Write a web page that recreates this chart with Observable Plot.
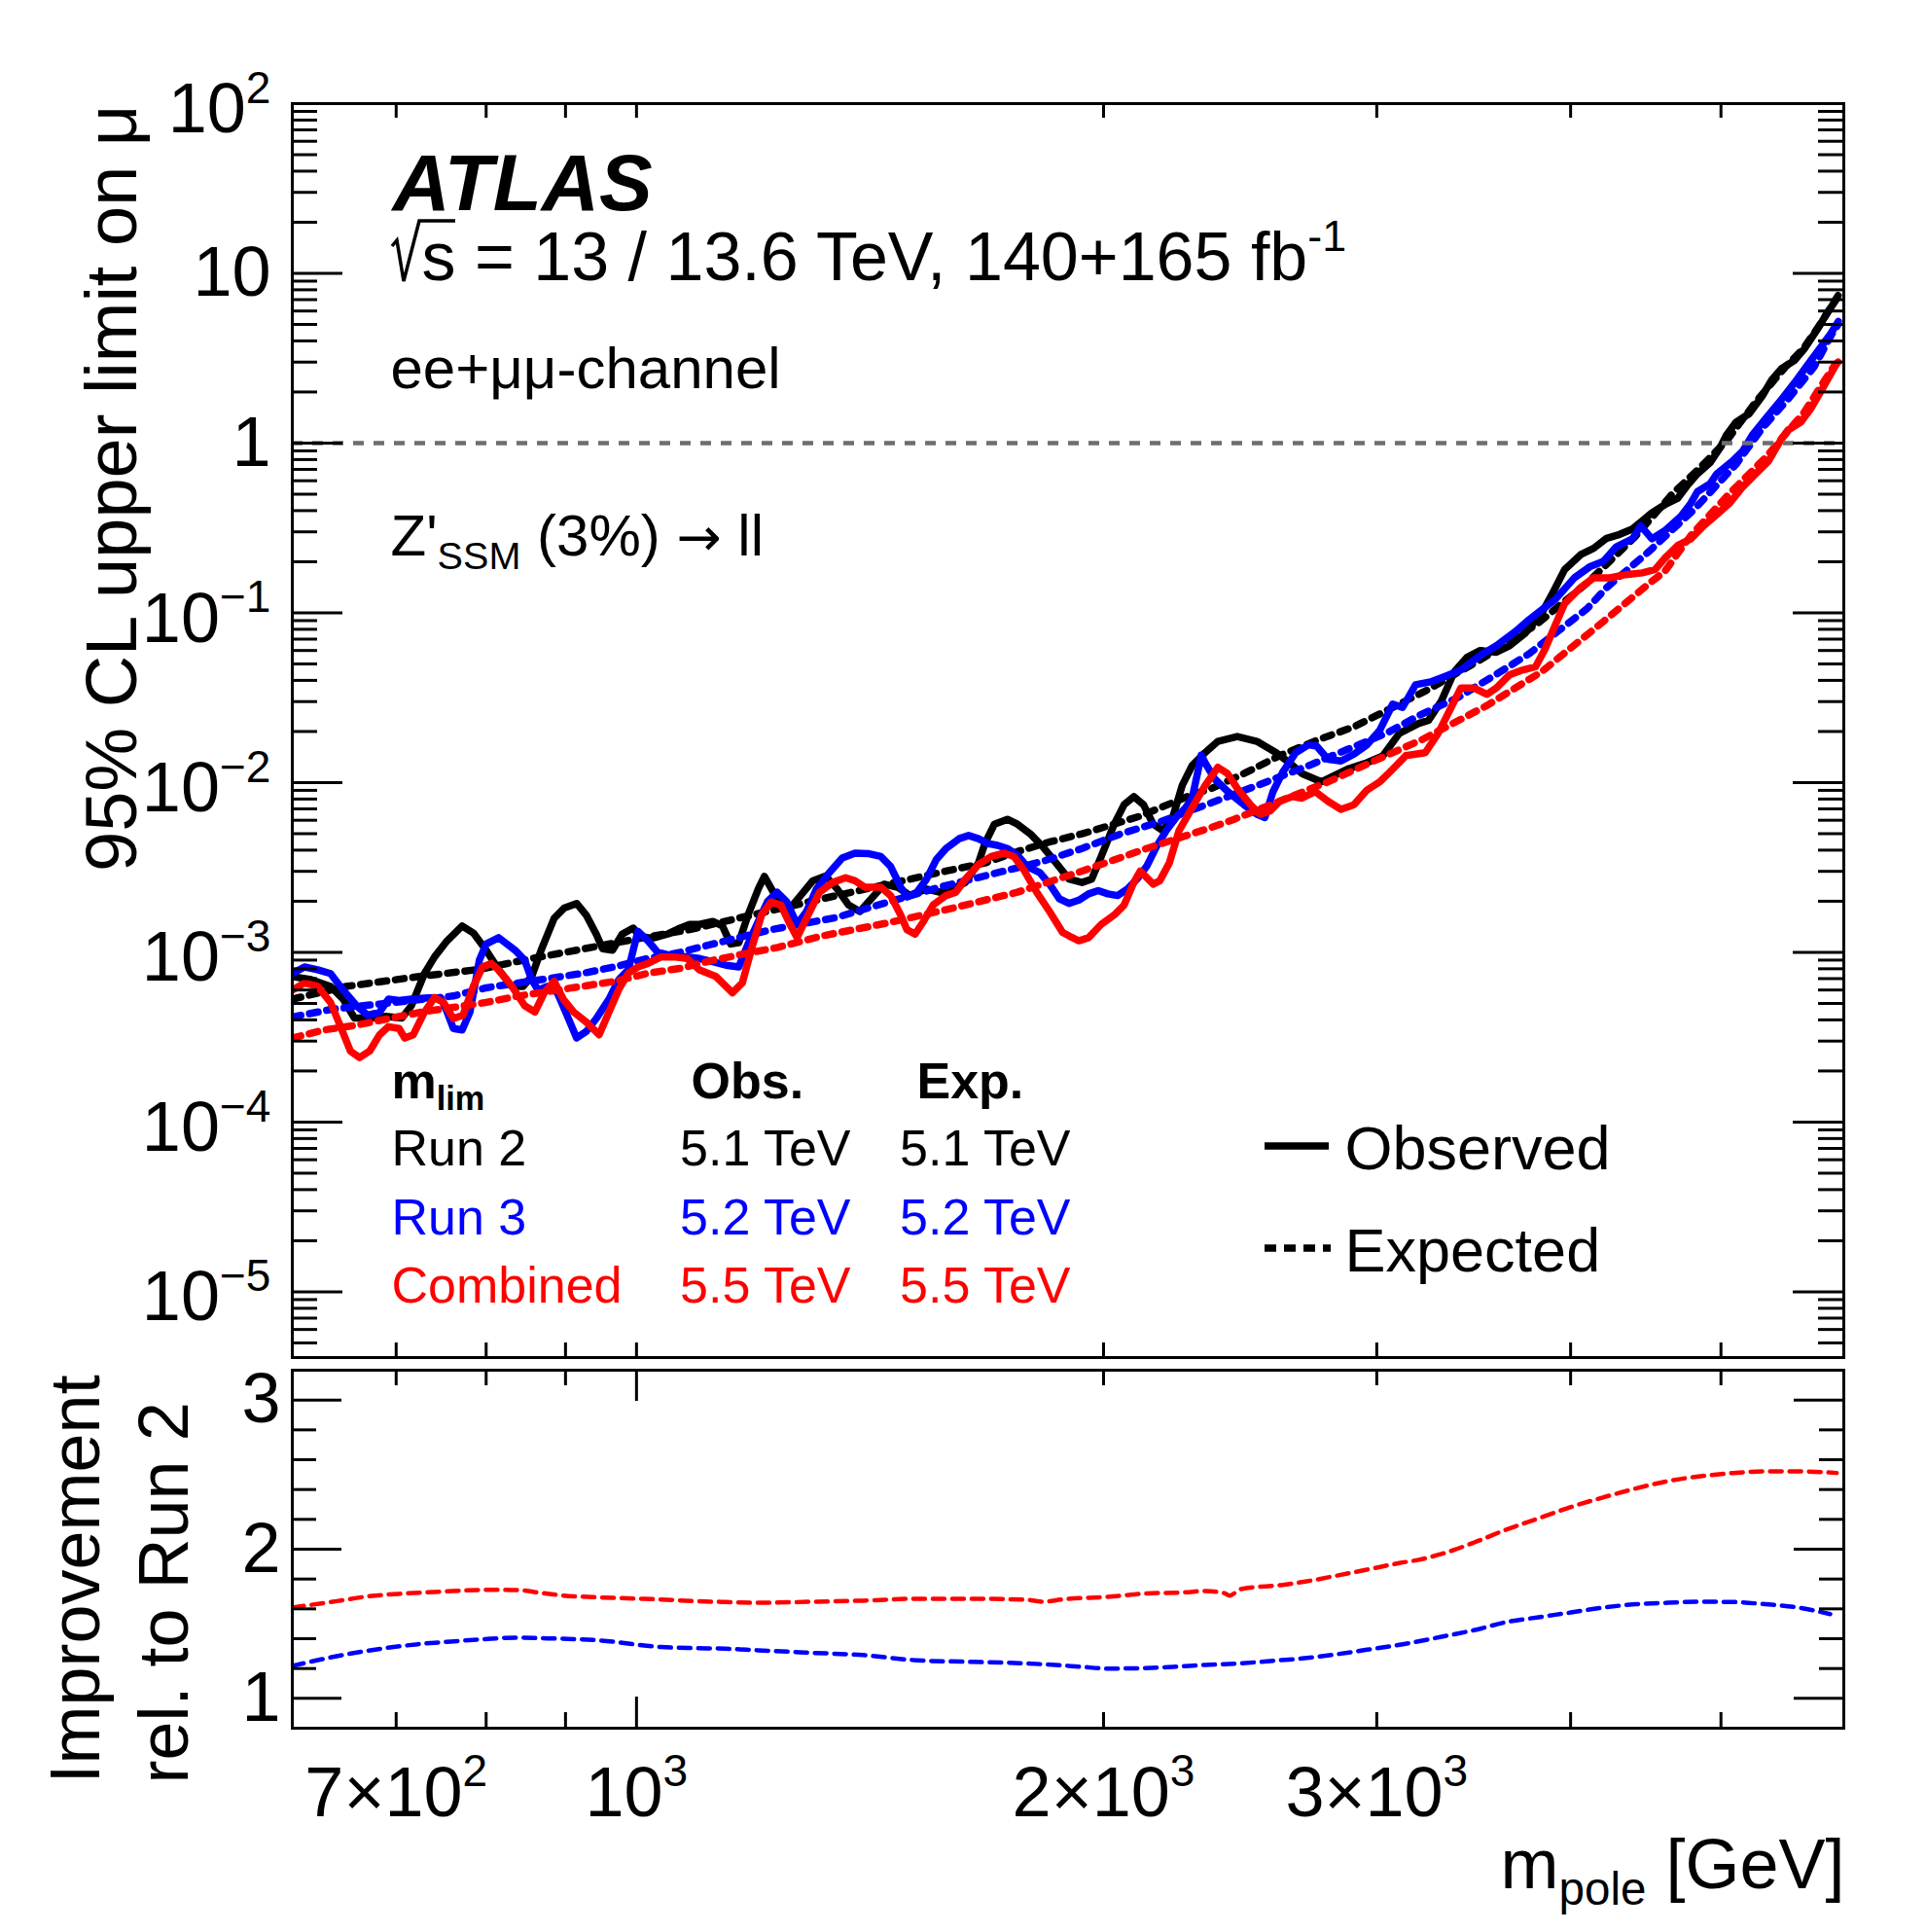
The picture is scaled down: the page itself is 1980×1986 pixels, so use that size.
<!DOCTYPE html>
<html><head><meta charset="utf-8">
<script src="https://cdn.jsdelivr.net/npm/d3@7"></script>
<script src="https://cdn.jsdelivr.net/npm/@observablehq/plot@0.6"></script>
<style>
html,body{margin:0;padding:0;background:#fff;}
#wrap{position:relative;width:1980px;height:1986px;background:#fff;overflow:hidden;}
#upper,#lower{position:absolute;left:0;width:1980px;}
#upper{top:0;height:1400px;}
#lower{top:1400px;height:586px;}
</style></head>
<body><div id="wrap"><div id="upper"></div><div id="lower"></div></div>
<script>
// ---------------- data ----------------
const run2ObsMass = [600,617,635,647,658,673,689,706,716,730,741,755,772,785,800,815,831,845,856,868,885,898,915,928,942,951,965,979,995,1007,1027,1047,1067,1082,1098,1120,1136,1150,1164,1180,1198,1209,1232,1256,1281,1299,1324,1347,1370,1393,1417,1444,1473,1501,1538,1568,1598,1629,1661,1677,1701,1734,1760,1794,1828,1864,1900,1937,1965,1993,2032,2062,2092,2122,2153,2184,2216,2248,2281,2325,2370,2439,2511,2584,2635,2685,2764,2818,2873,2957,3028,3102,3193,3240,3302,3366,3431,3498,3583,3653,3742,3832,3907,3965,4060,4139,4220,4302,4385,4449,4513,4601,4690,4758,4828,4921,4993,5041,5114,5214,5315,5392,5470,5576,5657,5768,5852,5937];
const run2ObsLimit = [7.2e-4,6.9e-4,6.3e-4,5.3e-4,4.1e-4,4.1e-4,4.2e-4,4.1e-4,4.85e-4,7.5e-4,9.4e-4,1.17e-3,1.43e-3,1.30e-3,1.03e-3,7.9e-4,6.3e-4,6.3e-4,7.2e-4,1.03e-3,1.59e-3,1.82e-3,1.94e-3,1.66e-3,1.28e-3,1.05e-3,1.03e-3,1.28e-3,1.39e-3,1.22e-3,1.22e-3,1.28e-3,1.39e-3,1.46e-3,1.46e-3,1.52e-3,1.43e-3,1.12e-3,1.14e-3,1.66e-3,2.36e-3,2.8e-3,2.07e-3,1.82e-3,2.26e-3,2.64e-3,2.82e-3,2.36e-3,1.90e-3,1.74e-3,2.07e-3,2.52e-3,2.42e-3,2.16e-3,2.36e-3,2.26e-3,2.36e-3,2.58e-3,3.36e-3,4.37e-3,5.69e-3,6.08e-3,5.69e-3,4.99e-3,4.18e-3,3.36e-3,2.70e-3,2.58e-3,2.70e-3,3.67e-3,5.69e-3,7.41e-3,8.27e-3,7.41e-3,5.69e-3,5.21e-3,6.22e-3,9.66e-3,1.26e-2,1.50e-2,1.75e-2,1.87e-2,1.75e-2,1.50e-2,1.31e-2,1.13e-2,1.01e-2,1.10e-2,1.20e-2,1.31e-2,1.44e-2,1.95e-2,2.23e-2,2.33e-2,3.03e-2,4.50e-2,5.48e-2,6.0e-2,5.86e-2,6.4e-2,7.63e-2,9.94e-2,0.138,0.18,0.22,0.24,0.275,0.29,0.312,0.348,0.388,0.434,0.474,0.565,0.659,0.768,0.936,1.116,1.33,1.49,1.89,2.36,2.75,3.07,3.58,4.67,5.81,7.08];

const run3ObsMass = [600,611,623,635,647,660,671,683,692,703,716,734,748,755,762,772,781,792,800,815,835,847,856,864,876,889,902,915,928,942,960,974,988,1002,1017,1032,1052,1078,1098,1120,1142,1164,1180,1198,1215,1232,1250,1269,1287,1306,1331,1357,1383,1410,1437,1458,1480,1494,1516,1538,1560,1583,1614,1637,1661,1685,1709,1734,1760,1785,1820,1846,1873,1900,1928,1956,1984,2013,2042,2072,2102,2132,2163,2195,2227,2259,2281,2300,2312,2325,2359,2405,2463,2511,2541,2572,2609,2660,2711,2744,2791,2845,2900,2957,3014,3072,3117,3178,3255,3318,3399,3498,3583,3688,3760,3851,3907,4023,4120,4200,4281,4385,4438,4513,4601,4713,4782,4828,4921,4969,5089,5164,5239,5341,5470,5576,5684,5796,5880,5951];
const run3ObsLimit = [7.5e-4,8.2e-4,7.9e-4,7.5e-4,6.0e-4,4.85e-4,4.26e-4,4.45e-4,5.3e-4,5.2e-4,5.3e-4,5.4e-4,5.4e-4,4.45e-4,3.56e-4,3.49e-4,4.45e-4,9.0e-4,1.12e-3,1.22e-3,1.03e-3,9.0e-4,6.9e-4,6.0e-4,6.3e-4,5.8e-4,4.26e-4,3.13e-4,3.41e-4,4.07e-4,5.3e-4,6.9e-4,7.9e-4,1.33e-3,1.17e-3,1.0e-3,9.6e-4,9.4e-4,9.2e-4,8.8e-4,8.4e-4,8.2e-4,1.12e-3,1.52e-3,2.0e-3,2.26e-3,1.98e-3,1.46e-3,1.74e-3,2.36e-3,2.94e-3,3.59e-3,3.84e-3,3.82e-3,3.67e-3,3.21e-3,2.42e-3,2.12e-3,2.26e-3,2.70e-3,3.51e-3,4.09e-3,4.67e-3,4.88e-3,4.67e-3,4.37e-3,4.27e-3,4.09e-3,3.75e-3,3.21e-3,2.94e-3,2.52e-3,2.07e-3,1.94e-3,2.03e-3,2.21e-3,2.31e-3,2.21e-3,2.16e-3,2.36e-3,2.70e-3,3.21e-3,4.18e-3,5.21e-3,6.22e-3,7.1e-3,8.1e-3,1.15e-2,1.45e-2,1.31e-2,1.05e-2,8.85e-3,7.41e-3,6.50e-3,6.22e-3,8.85e-3,1.15e-2,1.50e-2,1.67e-2,1.64e-2,1.37e-2,1.34e-2,1.47e-2,1.67e-2,2.04e-2,2.90e-2,2.77e-2,3.77e-2,3.94e-2,4.21e-2,4.60e-2,5.61e-2,6.4e-2,7.80e-2,9.10e-2,0.108,0.119,0.161,0.188,0.201,0.245,0.273,0.326,0.273,0.305,0.372,0.443,0.517,0.577,0.659,0.786,0.897,1.116,1.39,1.81,2.26,2.87,3.66,4.37,5.2];

const combObsMass = [600,611,623,635,644,654,663,673,683,692,703,709,718,730,741,751,762,773,785,796,806,815,831,847,860,872,885,897,911,928,946,960,974,988,1003,1017,1037,1057,1078,1098,1125,1153,1170,1187,1204,1221,1239,1256,1269,1287,1312,1338,1364,1383,1403,1437,1458,1480,1494,1512,1531,1553,1583,1606,1629,1661,1693,1726,1751,1776,1811,1846,1882,1900,1928,1956,1993,2032,2062,2092,2112,2153,2174,2205,2237,2281,2325,2370,2404,2439,2487,2523,2560,2597,2647,2685,2738,2791,2845,2900,2957,3014,3072,3132,3224,3286,3350,3399,3465,3532,3583,3653,3724,3797,3851,3907,3965,4060,4140,4240,4343,4449,4535,4601,4690,4782,4874,4969,5065,5164,5264,5367,5470,5522,5630,5712,5824,5937];
const combObsLimit = [6.0e-4,6.6e-4,6.3e-4,5.07e-4,3.72e-4,2.62e-4,2.40e-4,2.62e-4,3.27e-4,3.65e-4,3.56e-4,3.13e-4,3.27e-4,4.45e-4,5.42e-4,5.07e-4,4.07e-4,4.26e-4,6.32e-4,8.23e-4,8.6e-4,7.87e-4,6.32e-4,4.85e-4,4.45e-4,5.78e-4,6.75e-4,5.3e-4,4.45e-4,3.89e-4,3.27e-4,4.45e-4,6.04e-4,7.53e-4,8.23e-4,8.6e-4,9.4e-4,9.4e-4,9.2e-4,7.87e-4,7.21e-4,5.78e-4,6.6e-4,1.07e-3,1.66e-3,1.98e-3,1.90e-3,1.46e-3,1.22e-3,1.59e-3,2.26e-3,2.58e-3,2.75e-3,2.64e-3,2.42e-3,2.42e-3,2.16e-3,1.66e-3,1.36e-3,1.28e-3,1.52e-3,1.90e-3,2.16e-3,2.26e-3,2.70e-3,3.29e-3,3.67e-3,3.84e-3,3.67e-3,3.08e-3,2.26e-3,1.74e-3,1.31e-3,1.25e-3,1.17e-3,1.22e-3,1.46e-3,1.66e-3,1.90e-3,2.58e-3,3.01e-3,2.52e-3,2.64e-3,3.36e-3,5.21e-3,7.1e-3,9.6e-3,1.23e-2,1.13e-2,9.25e-3,7.41e-3,6.50e-3,6.79e-3,7.75e-3,8.28e-3,8.1e-3,8.85e-3,7.75e-3,6.95e-3,7.41e-3,9.04e-3,1.01e-2,1.20e-2,1.44e-2,1.50e-2,1.95e-2,2.77e-2,3.61e-2,3.61e-2,3.31e-2,3.61e-2,4.31e-2,4.60e-2,4.81e-2,6.12e-2,8.33e-2,0.1135,0.141,0.161,0.161,0.168,0.172,0.180,0.210,0.250,0.273,0.326,0.380,0.443,0.552,0.659,0.786,1.06,1.19,1.33,1.59,2.16,2.94];

const run2ExpMass = [600,650,719,792,856,915,1000,1082,1160,1318,1451,1583,1677,1760,1846,1937,2112,2281,2348,2463,2597,2751,2900,3224,3500,3800,4100,4400,4650,4850,5050,5265,5500,5650,5800,5950];
const run2ExpLimit = [5.3e-4,6.3e-4,7.14e-4,7.94e-4,9.2e-4,1.03e-3,1.2e-3,1.36e-3,1.58e-3,2.07e-3,2.52e-3,3.01e-3,3.36e-3,3.92e-3,4.47e-3,4.99e-3,6.35e-3,8.5e-3,9.25e-3,1.13e-2,1.44e-2,1.79e-2,2.13e-2,3.46e-2,5.3e-2,8.5e-2,0.15,0.28,0.50,0.72,1.05,1.75,2.8,3.6,5.1,7.4];

const run3ExpMass = [600,638,762,800,839,881,924,969,1017,1067,1120,1221,1344,1417,1568,1677,1828,1937,2052,2184,2347,2499,2724,2873,3043,3193,3382,3549,3760,3926,4100,4220,4491,4805,5114,5315,5522,5741,5893,5950];
const run3ExpLimit = [4.16e-4,4.64e-4,5.53e-4,6.18e-4,6.6e-4,7.05e-4,7.53e-4,8.23e-4,9.2e-4,1.0e-3,1.12e-3,1.36e-3,1.6e-3,1.85e-3,2.42e-3,2.82e-3,3.44e-3,4.09e-3,4.99e-3,5.95e-3,7.6e-3,9.44e-3,1.28e-2,1.57e-2,1.95e-2,2.48e-2,3.16e-2,4.12e-2,5.73e-2,7.8e-2,0.106,0.141,0.229,0.406,0.751,1.22,1.81,2.81,4.37,5.0];

const combExpMass = [600,629,660,692,727,762,800,839,881,924,969,1017,1067,1120,1174,1233,1318,1451,1598,1760,1937,2132,2347,2428,2791,2971,3208,3532,3832,4200,4491,4601,4782,5065,5341,5657,5908,5950];
const combExpLimit = [3.13e-4,3.49e-4,3.72e-4,4.07e-4,4.45e-4,4.74e-4,5.07e-4,5.53e-4,5.91e-4,6.32e-4,6.75e-4,7.53e-4,8.05e-4,8.98e-4,9.8e-4,1.07e-3,1.25e-3,1.49e-3,1.82e-3,2.26e-3,3.01e-3,4.09e-3,5.44e-3,6.08e-3,1.01e-2,1.31e-2,1.79e-2,2.84e-2,4.50e-2,8.9e-2,0.148,0.176,0.286,0.506,0.82,1.52,2.81,3.0];

const ratioCombMass = [600,641,673,706,741,777,815,843,868,897,942,988,1037,1088,1141,1198,1300,1400,1516,1621,1776,1828,1881,2012,2132,2259,2325,2393,2411,2452,2609,2698,2818,2957,3102,3193,3302,3465,3635,3814,4002,4200,4406,4623,4851,5089,5341,5604,5937];
const ratioComb = [1.609,1.652,1.685,1.702,1.713,1.724,1.728,1.724,1.707,1.689,1.678,1.670,1.663,1.652,1.646,1.641,1.648,1.655,1.668,1.668,1.663,1.648,1.663,1.681,1.703,1.711,1.720,1.705,1.689,1.733,1.761,1.783,1.820,1.863,1.907,1.929,1.968,2.044,2.131,2.207,2.283,2.348,2.407,2.457,2.489,2.511,2.522,2.522,2.511];

const ratioRun3Mass = [600,626,657,689,723,759,796,835,876,919,965,1002,1037,1088,1141,1198,1300,1400,1516,1621,1776,1873,1937,2012,2112,2216,2325,2439,2560,2685,2818,2957,3147,3302,3465,3635,3814,4002,4200,4406,4623,4851,5089,5341,5604,5880];
const ratioRun3 = [1.217,1.261,1.304,1.337,1.363,1.381,1.396,1.407,1.402,1.396,1.381,1.359,1.344,1.337,1.333,1.322,1.305,1.29,1.255,1.246,1.235,1.222,1.211,1.200,1.202,1.211,1.224,1.233,1.250,1.268,1.294,1.326,1.370,1.413,1.457,1.511,1.544,1.576,1.609,1.631,1.641,1.648,1.646,1.631,1.609,1.565];

// axis ticks / labels
const massDomain = [600, 6000];
const limitDomain = [4.1e-6, 100];
const ratioDomain = [0.8, 3.2];
const yLabelTicks = [1e-5, 1e-4, 1e-3, 1e-2, 1e-1, 1, 10, 100];
const xTickValues = [700, 800, 900, 1000, 2000, 3000, 4000, 5000];
const xLabelTicks = [700, 1000, 2000, 3000];
const xLabelText = ["7×10^{2}", "10^{3}", "2×10^{3}", "3×10^{3}"];
const ratioMajor = [1, 2, 3];
const ratioMinor = [1.2, 1.4, 1.6, 1.8, 2.2, 2.4, 2.6, 2.8];
const legendNames = ["Run 2", "Run 3", "Combined"];
const legendObs = ["5.1 TeV", "5.2 TeV", "5.5 TeV"];
const legendExp = ["5.1 TeV", "5.2 TeV", "5.5 TeV"];
const seriesColors = ["#000000", "#0000ff", "#ff0000"];

// ---------------- helpers ----------------
const FONT = '"Liberation Sans", Arial, Helvetica, sans-serif';
const rows = (m, v) => m.map((x, i) => ({m: x, v: v[i]}));
const W = 1980, ML = 300, MR = 85;
const FW = W - ML - MR;
const SVGNS = "http://www.w3.org/2000/svg";

function yMinorTicks() {
  const out = [];
  for (let k = -6; k <= 1; k++) for (let j = 2; j <= 9; j++) {
    const v = j * Math.pow(10, k);
    if (v > limitDomain[0] && v < limitDomain[1]) out.push(v);
  }
  return out;
}
function expLabel(d) {
  const e = Math.round(Math.log10(d));
  if (e === 0) return "1";
  if (e === 1) return "10";
  return "10^{" + (e < 0 ? "−" + (-e) : e) + "}";
}
function label(str, X, Y, MT, o = {}) {
  return Plot.text([str], {
    text: d => d, frameAnchor: "top-left", dx: X - ML, dy: Y - MT,
    textAnchor: o.anchor || "start", lineAnchor: "bottom",
    fontSize: o.size || 72, fontWeight: o.weight || "normal",
    fontStyle: o.style || "normal", fill: o.fill || "black", rotate: o.rotate || 0
  });
}
// markup: ^{sup} _{sub} @{DejaVu glyph}
function enrich(svg) {
  svg.querySelectorAll("text").forEach(el => {
    const s = el.textContent;
    if (!/[\^_@]\{/.test(s)) return;
    const fs = parseFloat(getComputedStyle(el).fontSize);
    const inY = el.closest('g[aria-label="y-axis tick label"]') != null;
    const base = (inY && s.includes("^{")) ? 0.09 * fs : 0;
    el.textContent = "";
    const re = /([\^_@])\{([^}]*)\}/g;
    let last = 0, cur = 0, m;
    const add = (txt, kind) => {
      if (!txt) return;
      const t = document.createElementNS(SVGNS, "tspan");
      let target = base;
      if (kind === "^") { target = base - 0.42 * fs; t.setAttribute("font-size", 0.64 * fs); }
      else if (kind === "_") { target = base + 0.24 * fs; t.setAttribute("font-size", 0.66 * fs); }
      else if (kind === "@") { t.setAttribute("font-family", "DejaVu Sans"); t.setAttribute("font-size", 0.92 * fs); }
      const dy = target - cur;
      if (dy) t.setAttribute("dy", dy);
      cur = target;
      t.textContent = txt;
      el.appendChild(t);
    };
    while ((m = re.exec(s))) { add(s.slice(last, m.index), ""); add(m[2], m[1]); last = re.lastIndex; }
    add(s.slice(last), "");
  });
}

// ---------------- upper panel ----------------
const UH = 1400, UMT = 106, UMB = 5;
const UFH = UH - UMT - UMB;
const solid = {strokeWidth: 7.5, strokeLinejoin: "round", strokeLinecap: "round", clip: true};
const dotted = {strokeWidth: 7.5, strokeDasharray: "9,9", clip: true};

const upperMarks = [
  Plot.line(rows(run2ExpMass, run2ExpLimit), {x: "m", y: "v", stroke: seriesColors[0], ...dotted}),
  Plot.line(rows(run2ObsMass, run2ObsLimit), {x: "m", y: "v", stroke: seriesColors[0], ...solid}),
  Plot.line(rows(run3ExpMass, run3ExpLimit), {x: "m", y: "v", stroke: seriesColors[1], ...dotted}),
  Plot.line(rows(run3ObsMass, run3ObsLimit), {x: "m", y: "v", stroke: seriesColors[1], ...solid}),
  Plot.line(rows(combExpMass, combExpLimit), {x: "m", y: "v", stroke: seriesColors[2], ...dotted}),
  Plot.line(rows(combObsMass, combObsLimit), {x: "m", y: "v", stroke: seriesColors[2], ...solid}),
  Plot.ruleY([1], {stroke: "#6e6e6e", strokeWidth: 4.5, strokeDasharray: "11,10"}),
  Plot.tickY(yLabelTicks, {y: d => d, insetRight: FW - 52, stroke: "black", strokeWidth: 3}),
  Plot.tickY(yMinorTicks(), {y: d => d, insetRight: FW - 26, stroke: "black", strokeWidth: 3}),
  Plot.tickY(yLabelTicks, {y: d => d, insetLeft: FW - 52, stroke: "black", strokeWidth: 3}),
  Plot.tickY(yMinorTicks(), {y: d => d, insetLeft: FW - 26, stroke: "black", strokeWidth: 3}),
  Plot.tickX(xTickValues, {x: d => d, insetBottom: UFH - 15, stroke: "black", strokeWidth: 3}),
  Plot.tickX(xTickValues, {x: d => d, insetTop: UFH - 15, stroke: "black", strokeWidth: 3}),
  Plot.frame({stroke: "black", strokeWidth: 3}),
  Plot.axisY(yLabelTicks, {tickSize: 0, tickPadding: 22, tickFormat: expLabel, fontSize: 72, label: null}),
  label("95% CL upper limit on μ", 139, 107, UMT, {anchor: "end", rotate: -90, size: 74}),
  label("ATLAS", 403, 215, UMT, {size: 82, weight: "bold", style: "italic"}),
  label("s = 13 / 13.6 TeV, 140+165 fb^{-1}", 433, 287, UMT, {size: 70}),
  label("ee+μμ-channel", 401, 398, UMT, {size: 60}),
  label("Z'_{SSM} (3%) @{→} ll", 401, 570, UMT, {size: 60}),
  label("m_{lim}", 402, 1128, UMT, {size: 52, weight: "bold"}),
  label("Obs.", 710, 1128, UMT, {size: 52, weight: "bold"}),
  label("Exp.", 942, 1128, UMT, {size: 52, weight: "bold"}),
  label("Observed", 1382, 1201, UMT, {size: 63}),
  label("Expected", 1382, 1306, UMT, {size: 63})
];
const rowY = [1197, 1268, 1338];
legendNames.forEach((n, i) => {
  upperMarks.push(label(n, 402, rowY[i], UMT, {size: 52, fill: seriesColors[i]}));
  upperMarks.push(label(legendObs[i], 874, rowY[i], UMT, {size: 52, fill: seriesColors[i], anchor: "end"}));
  upperMarks.push(label(legendExp[i], 1100, rowY[i], UMT, {size: 52, fill: seriesColors[i], anchor: "end"}));
});

const upper = Plot.plot({
  width: W, height: UH, marginLeft: ML, marginRight: MR, marginTop: UMT, marginBottom: UMB,
  style: {fontFamily: FONT, fontSize: "72px", background: "white", color: "black", maxWidth: "none"},
  x: {type: "log", domain: massDomain, axis: null},
  y: {type: "log", domain: limitDomain, axis: null},
  marks: upperMarks
});
document.getElementById("upper").appendChild(upper);
enrich(upper);
const lg = d3.select(upper).append("g");
// radical sign of √s drawn as a stroke, like ROOT's #sqrt
lg.append("path")
  .attr("d", "M403,253 L408,247 L415,289 L431,227 L468,227")
  .attr("fill", "none").attr("stroke", "black").attr("stroke-width", 3.5)
  .attr("stroke-linejoin", "miter");
lg.append("line").attr("x1", 1300).attr("x2", 1366).attr("y1", 1178).attr("y2", 1178)
  .attr("stroke", "black").attr("stroke-width", 7.5);
lg.append("line").attr("x1", 1300).attr("x2", 1368).attr("y1", 1283).attr("y2", 1283)
  .attr("stroke", "black").attr("stroke-width", 7.5).attr("stroke-dasharray", "12,8");

// ---------------- lower panel ----------------
const LH = 586, LMT = 8, LMB = 210;
const LFH = LH - LMT - LMB;
const ratioStyle = {strokeWidth: 4.5, strokeDasharray: "12,8", curve: "monotone-x", clip: true};
const lower = Plot.plot({
  width: W, height: LH, marginLeft: ML, marginRight: MR, marginTop: LMT, marginBottom: LMB,
  style: {fontFamily: FONT, fontSize: "72px", background: "white", color: "black", maxWidth: "none"},
  x: {type: "log", domain: massDomain, axis: null},
  y: {type: "linear", domain: ratioDomain, axis: null},
  marks: [
    Plot.line(rows(ratioRun3Mass, ratioRun3), {x: "m", y: "v", stroke: seriesColors[1], ...ratioStyle}),
    Plot.line(rows(ratioCombMass, ratioComb), {x: "m", y: "v", stroke: seriesColors[2], ...ratioStyle}),
    Plot.tickY(ratioMajor, {y: d => d, insetRight: FW - 51, stroke: "black", strokeWidth: 3}),
    Plot.tickY(ratioMinor, {y: d => d, insetRight: FW - 25, stroke: "black", strokeWidth: 3}),
    Plot.tickY(ratioMajor, {y: d => d, insetLeft: FW - 51, stroke: "black", strokeWidth: 3}),
    Plot.tickY(ratioMinor, {y: d => d, insetLeft: FW - 25, stroke: "black", strokeWidth: 3}),
    Plot.tickX(xTickValues.filter(d => d !== 1000), {x: d => d, insetBottom: LFH - 16, stroke: "black", strokeWidth: 3}),
    Plot.tickX(xTickValues.filter(d => d !== 1000), {x: d => d, insetTop: LFH - 16, stroke: "black", strokeWidth: 3}),
    Plot.tickX([1000], {x: d => d, insetTop: LFH - 32, stroke: "black", strokeWidth: 3}),
    Plot.tickX([1000], {x: d => d, insetBottom: LFH - 32, stroke: "black", strokeWidth: 3}),
    Plot.frame({stroke: "black", strokeWidth: 3}),
    Plot.axisY(ratioMajor, {tickSize: 0, tickPadding: 12, fontSize: 72, tickFormat: d => String(d), label: null}),
    Plot.axisX(xLabelTicks, {tickSize: 0, tickPadding: 39, fontSize: 72, label: null,
      tickFormat: d => xLabelText[xLabelTicks.indexOf(d)]}),
    label("Improvement", 101, 433, LMT, {rotate: -90, size: 72}),
    label("rel. to Run 2", 192, 433, LMT, {rotate: -90, size: 72}),
    label("m_{pole} [GeV]", 1896, 540, LMT, {anchor: "end", size: 72})
  ]
});
document.getElementById("lower").appendChild(lower);
enrich(lower);
</script>
</body></html>
